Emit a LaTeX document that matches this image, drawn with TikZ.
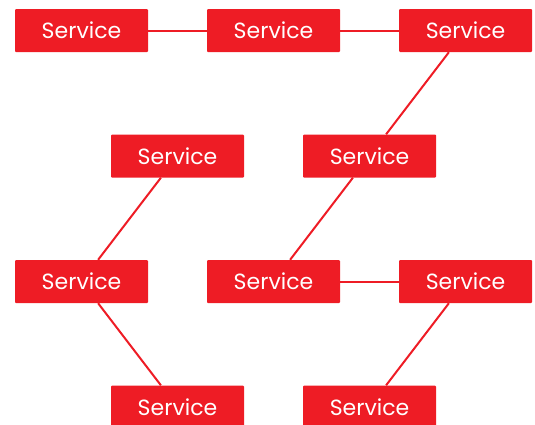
\documentclass[tikz,border=0pt]{standalone}
\usepackage{fontspec}
\setmainfont{Poppins}
\definecolor{svcred}{HTML}{EE1C25}
\begin{document}
\begin{tikzpicture}[x=1pt,y=-1pt,
  svc/.style={fill=svcred, draw=none, minimum width=133pt, minimum height=43pt, inner sep=0pt, rounded corners=1pt, text=white, font=\fontsize{22}{24}\selectfont},
  link/.style={draw=svcred, line width=2pt}]
\useasboundingbox (0,0) rectangle (535,424);
\node[svc] (a1) at (81.5,30.5) {Service};
\node[svc] (a2) at (273.5,30.5) {Service};
\node[svc] (a3) at (465.5,30.5) {Service};
\node[svc] (b1) at (177.5,156) {Service};
\node[svc] (b2) at (369.5,156) {Service};
\node[svc] (c1) at (81.5,281.5) {Service};
\node[svc] (c2) at (273.5,281.5) {Service};
\node[svc] (c3) at (465.5,281.5) {Service};
\node[svc] (d1) at (177.5,407) {Service};
\node[svc] (d2) at (369.5,407) {Service};
\draw[link] (a1) -- (a2);
\draw[link] (a2) -- (a3);
\draw[link] (a3) -- (b2);
\draw[link] (b2) -- (c2);
\draw[link] (b1) -- (c1);
\draw[link] (c1) -- (d1);
\draw[link] (c2) -- (c3);
\draw[link] (c3) -- (d2);
\end{tikzpicture}
\end{document}
